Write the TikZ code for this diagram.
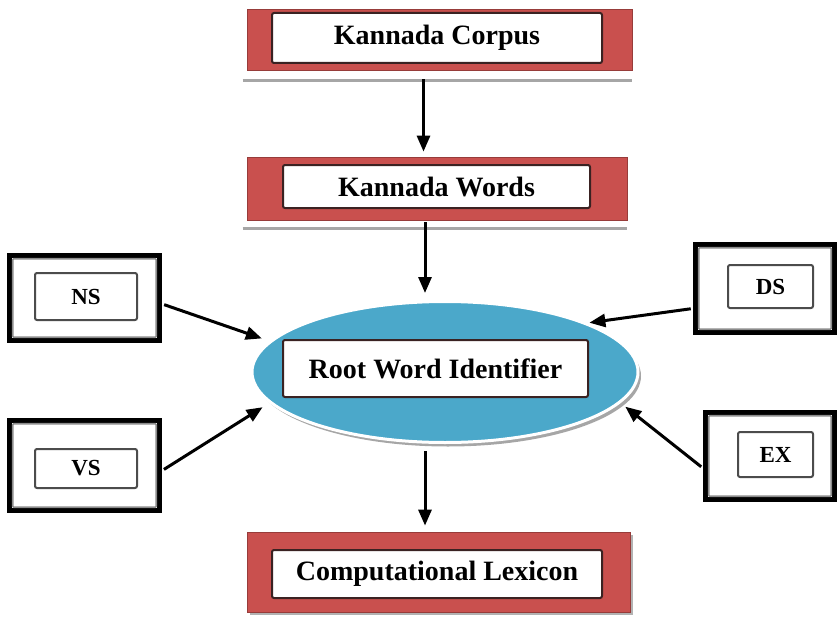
\documentclass[tikz,border=0pt]{standalone}
\usepackage{fontspec}
\setmainfont{Liberation Serif}
\usetikzlibrary{shapes.geometric,arrows.meta,shadows}
\definecolor{boxred}{HTML}{C9504E}
\definecolor{ovalblue}{HTML}{4BA8CA}
\definecolor{rimdark}{HTML}{3A2222}
\begin{document}
\begin{tikzpicture}[x=1pt,y=-1pt,
  redbox/.style={rectangle, fill=boxred, draw=boxred!75!black, line width=0.8pt, inner sep=0pt},
  textbox/.style={rectangle, fill=white, draw=rimdark, line width=2pt, rounded corners=2pt,
    inner sep=0pt, font=\bfseries\fontsize{28}{30}\selectfont},
  frame/.style={rectangle, draw=black, line width=5.5pt, fill=white, inner sep=0pt},
  innerrule/.style={draw=black!45, line width=1.6pt, rounded corners=1pt},
  tagbox/.style={rectangle, draw=black!70, line width=2pt, rounded corners=2pt, fill=white,
    inner sep=0pt, font=\bfseries\fontsize{23}{25}\selectfont},
  arr/.style={line width=3pt, -{Triangle[length=16pt,width=13pt]}},
  sheen/.style={draw=black!35, line width=2.5pt}
]
\useasboundingbox (0,0) rectangle (840,623);

% top of the chain: corpus and word list
\node[redbox, minimum width=385, minimum height=61] (corpusred) at (439.5,39.5) {};
\node[textbox, minimum width=330, minimum height=50] (corpus) at (437,38) {Kannada Corpus};
\draw[sheen] ([shift={(-4,10)}]corpusred.south west) -- ([shift={(0,10)}]corpusred.south east);

\node[redbox, minimum width=380, minimum height=63] (wordsred) at (437,188.5) {};
\node[textbox, minimum width=307, minimum height=43] (words) at (436.5,186.5) {Kannada Words};
\draw[sheen] ([shift={(-4,8)}]wordsred.south west) -- ([shift={(0,8)}]wordsred.south east);

% central identifier
\node[ellipse, fill=ovalblue, draw=white, line width=3pt, minimum width=386, minimum height=141,
  drop shadow={shadow xshift=3pt, shadow yshift=-4pt, fill=black!35, opacity=1}] (rwi) at (445,372) {};
\node[textbox, minimum width=305, minimum height=57] (rwibox) at (435.5,368.5) {Root Word Identifier};

% output
\node[redbox, minimum width=383, minimum height=80,
  drop shadow={shadow xshift=3pt, shadow yshift=-3pt, fill=black!30, opacity=1}] (lexred) at (438.5,572) {};
\node[textbox, minimum width=330, minimum height=48] (lex) at (437,574) {Computational Lexicon};

% side inputs
\node[frame, minimum width=150, minimum height=85] (ns) at (84.5,298) {};
\draw[innerrule] ([shift={(6,6)}]ns.north west) rectangle ([shift={(-6,-6)}]ns.south east);
\node[tagbox, minimum width=102, minimum height=47] (nstag) at (86,296.5) {NS};

\node[frame, minimum width=150, minimum height=90] (vs) at (84.5,465.5) {};
\draw[innerrule] ([shift={(6,6)}]vs.north west) rectangle ([shift={(-6,-6)}]vs.south east);
\node[tagbox, minimum width=102, minimum height=39] (vstag) at (86,468.5) {VS};

\node[frame, minimum width=139, minimum height=88] (ds) at (765,288.5) {};
\draw[innerrule] ([shift={(6,6)}]ds.north west) rectangle ([shift={(-6,-6)}]ds.south east);
\node[tagbox, minimum width=85, minimum height=43] (dstag) at (770.5,286.5) {DS};

\node[frame, minimum width=129, minimum height=87] (ex) at (770,456) {};
\draw[innerrule] ([shift={(6,6)}]ex.north west) rectangle ([shift={(-6,-6)}]ex.south east);
\node[tagbox, minimum width=75, minimum height=45] (extag) at (775.5,454.5) {EX};

% connectors
\draw[arr, shorten <=9pt, shorten >=5pt] ([xshift=-16]corpusred.south) -- ([xshift=-13.5]wordsred.north);
\draw[arr, shorten <=2pt, shorten >=7pt] ([xshift=-12]wordsred.south) -- ([xshift=-20]rwi.north);
\draw[arr, shorten <=7pt, shorten >=6pt] ([xshift=-20]rwi.south) -- ([xshift=-13.5]lexred.north);

\draw[arr, shorten <=2pt, shorten >=8pt] ([yshift=-6]ns.east) -- (rwi.170);
\draw[arr, shorten <=2pt, shorten >=8pt] ([yshift=-5]vs.east) -- (rwi.190);
\draw[arr, shorten <=2pt, shorten >=2pt] ([yshift=-20]ds.west) -- (rwi.19);
\draw[arr, shorten <=2pt, shorten >=6pt] ([yshift=-12]ex.west) -- (rwi.-10);
\end{tikzpicture}
\end{document}
